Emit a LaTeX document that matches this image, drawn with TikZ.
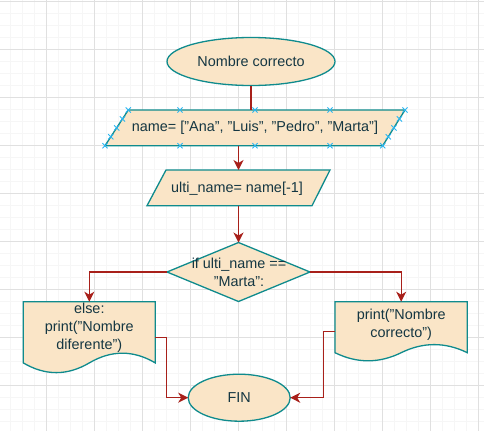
\documentclass[tikz,border=0pt]{standalone}
\usepackage{fontspec}
\setmainfont{Liberation Sans}
\usetikzlibrary{arrows.meta,shapes.geometric,calc}
\definecolor{fillc}{HTML}{FAE5C7}
\definecolor{strokec}{HTML}{0F8B8D}
\definecolor{arrc}{HTML}{A8201A}
\definecolor{txtc}{HTML}{143642}
\definecolor{handlec}{HTML}{29B6F2}
\definecolor{gmaj}{HTML}{E0E0E0}
\definecolor{gmin}{HTML}{F6F6F6}
\newcommand\docshape[5]{%
  \node[box, minimum width=#4pt, minimum height=#5pt] (#1) at ({#2+#4/2},{#3+#5/2}) {};
  \draw[shp] (#2,#3) -- ({#2+#4},#3) -- ({#2+#4},{#3+0.85*#5})
    .. controls ({#2+5*#4/6},{#3+0.67*#5}) and ({#2+2*#4/3},{#3+0.67*#5}) .. ({#2+#4/2},{#3+0.85*#5})
    .. controls ({#2+#4/3},{#3+1.03*#5}) and ({#2+#4/6},{#3+1.03*#5}) .. (#2,{#3+0.85*#5}) -- cycle;}
\newcommand\hx[2]{\draw[handle] (#1,#2) +(-2.6,-2.6) -- +(2.6,2.6) +(-2.6,2.6) -- +(2.6,-2.6);}
\begin{document}
\begin{tikzpicture}[x=1pt,y=-1pt,
  shp/.style={draw=strokec, fill=fillc, line width=1.3pt},
  box/.style={inner sep=0pt, outer sep=0pt, text=txtc, font=\fontsize{14.4}{18}\selectfont, align=center},
  arr/.style={draw=arrc, line width=1.3pt, -{Stealth[length=10pt,width=10pt,inset=3pt]}},
  ln/.style={draw=arrc, line width=1.3pt},
  handle/.style={draw=handlec, line width=0.9pt}]
\fill[white] (0,0) rectangle (484,431);
\useasboundingbox (0,0) rectangle (484,431);
% grid
\foreach \x in {10.5,22.5,...,478.5} \draw[gmin, line width=0.8pt] (\x,0) -- (\x,431);
\foreach \y in {1.3,13.3,...,430} \draw[gmin, line width=0.8pt] (0,\y) -- (484,\y);
\foreach \x in {-1.5,46.5,...,478.5} \draw[gmaj, line width=0.9pt] (\x,0) -- (\x,431);
\foreach \y in {1.3,49.3,...,430} \draw[gmaj, line width=0.9pt] (0,\y) -- (484,\y);

% start
\node[box, ellipse, shp, minimum width=168pt, minimum height=48pt] (start) at (251,61.5) {Nombre correcto};

% first parallelogram
\node[box, minimum width=300pt, minimum height=35.7pt] (p1) at (255,127.85) {};
\draw[shp] ($(p1.north west)+(23.3,0)$) -- (p1.north east) -- ($(p1.south east)+(-22.3,0)$) -- (p1.south west) -- cycle;
\node[box] (t1) at (p1.center) {name= ["Ana", "Luis", "Pedro", "Marta"]};

% second parallelogram
\node[box, minimum width=183pt, minimum height=35.7pt] (p2) at (238.5,187.85) {};
\draw[shp] ($(p2.north west)+(19,0)$) -- (p2.north east) -- ($(p2.south east)+(-18,0)$) -- (p2.south west) -- cycle;
\node[box] (t2) at ($(p2.center)+(-1.5,0.5)$) {ulti\_name= name[-1]};

% diamond
\node[box, minimum width=143pt, minimum height=59pt] (dia) at (238.5,272) {};
\draw[shp] (dia.north) -- (dia.east) -- (dia.south) -- (dia.west) -- cycle;
\node[box] (t3) at ($(dia.center)+(0.5,0.5)$) {if ulti\_name ==\\"Marta":};

% documents
\docshape{ldoc}{23.3}{301.7}{132}{72}
\node[box] (t4) at (89.3,327.8) {else:\\print("Nombre\\diferente")};
\docshape{rdoc}{335}{301.7}{132.3}{60}
\node[box] (t5) at (401.2,324.5) {print("Nombre\\correcto")};

% end
\node[box, ellipse, shp, minimum width=102pt, minimum height=47pt] (fin) at (239.2,397.7) {FIN};

% connectors
\draw[ln] (start.south) -- (start.south |- p1.north);
\draw[arr] (p2.north |- p1.south) -- (p2.north);
\draw[arr] (p2.south) -- (dia.north);
\draw[arr] (dia.west) -| (ldoc.north);
\draw[arr] (dia.east) -| (rdoc.north);
\draw[arr] (ldoc.east) -- ++(11.4,0) |- (fin.west);
\draw[arr] (rdoc.west) -- ++(-11.7,0) |- (fin.east);

% handles on first parallelogram
\foreach \a/\b in {128.3/110,180/110,255/110,330/110,405/110,
  105/145.7,180/145.7,255/145.7,330/145.7,382.7/145.7,
  122.5/118.9,116.7/127.9,110.8/136.8,
  399.4/118.9,393.9/127.9,388.3/136.8}
  {\hx{\a}{\b}}
\end{tikzpicture}
\end{document}
